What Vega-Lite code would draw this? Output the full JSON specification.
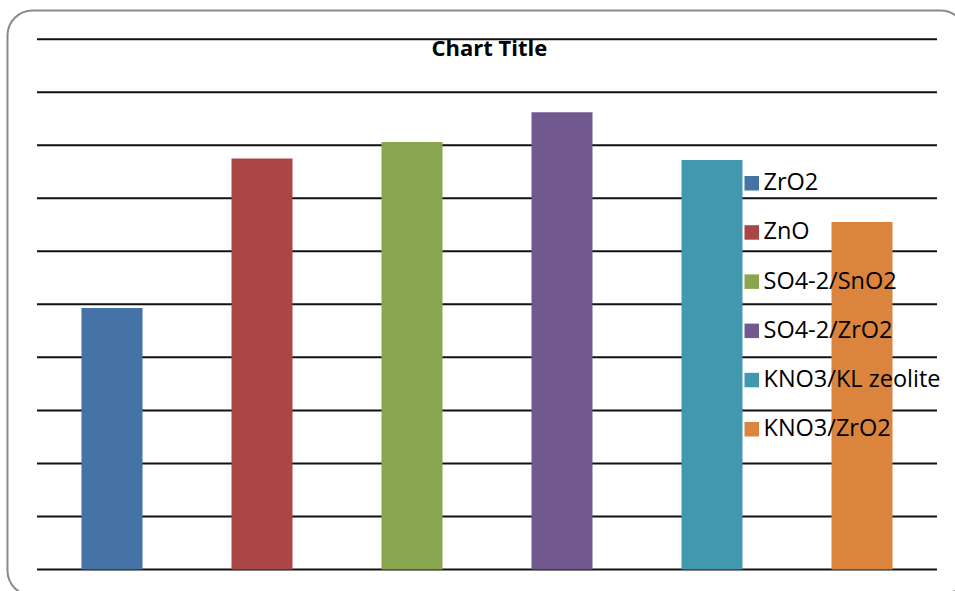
{
  "$schema": "https://vega.github.io/schema/vega-lite/v6.json",
  "width": 958,
  "height": 585,
  "autosize": "none",
  "padding": {"left": 7.5, "top": 10.5, "right": 0, "bottom": 0},
  "background": "white",
  "title": {
    "text": "Chart Title",
    "font": "Open Sans",
    "fontSize": 22,
    "fontWeight": "bold",
    "color": "#000000",
    "anchor": "start",
    "baseline": "alphabetic",
    "offset": 0,
    "dx": 424,
    "dy": 67.5
  },
  "data": {
    "values": [
      {"material": "ZrO2", "value": 49.3},
      {"material": "ZnO", "value": 77.5},
      {"material": "SO4-2/SnO2", "value": 80.6},
      {"material": "SO4-2/ZrO2", "value": 86.2},
      {"material": "KNO3/KL zeolite", "value": 77.2},
      {"material": "KNO3/ZrO2", "value": 65.5}
    ]
  },
  "layer": [
    {
      "data": {
        "values": [
          {"material": "ZrO2", "level": [0, 10, 20, 30, 40, 50, 60, 70, 80, 90, 100]},
          {"material": "ZnO", "level": [0, 10, 20, 30, 40, 50, 60, 70, 80, 90, 100]},
          {"material": "SO4-2/SnO2", "level": [0, 10, 20, 30, 40, 50, 60, 70, 80, 90, 100]},
          {"material": "SO4-2/ZrO2", "level": [0, 10, 20, 30, 40, 50, 60, 70, 80, 90, 100]},
          {"material": "KNO3/KL zeolite", "level": [0, 10, 20, 30, 40, 50, 60, 70, 80, 90, 100]},
          {"material": "KNO3/ZrO2", "level": [0, 10, 20, 30, 40, 50, 60, 70, 80, 90, 100]}
        ]
      },
      "transform": [{"flatten": ["level"]}],
      "mark": {"type": "tick", "orient": "horizontal", "color": "#111111", "thickness": 2, "size": 150, "opacity": 1},
      "encoding": {
        "x": {"field": "material", "type": "nominal", "sort": null, "axis": null},
        "y": {"field": "level", "type": "quantitative", "axis": null}
      }
    },
    {
      "mark": {"type": "bar", "width": {"band": 0.4067}},
      "encoding": {
        "x": {
          "field": "material",
          "type": "nominal",
          "sort": null,
          "scale": {"paddingInner": 0, "paddingOuter": 0.1933, "align": 0.5086},
          "axis": null
        },
        "y": {
          "field": "value",
          "type": "quantitative",
          "scale": {"domain": [-4.9, 105.4], "nice": false, "zero": false},
          "axis": null
        },
        "color": {
          "field": "material",
          "type": "nominal",
          "sort": null,
          "scale": {
            "domain": ["ZrO2", "ZnO", "SO4-2/SnO2", "SO4-2/ZrO2", "KNO3/KL zeolite", "KNO3/ZrO2"],
            "range": ["#4572A7", "#AA4643", "#89A54E", "#71588F", "#4198AF", "#DB843D"]
          },
          "legend": {
            "orient": "none",
            "legendX": 732.5,
            "legendY": 161,
            "title": null,
            "padding": 0,
            "symbolType": "square",
            "symbolSize": 210,
            "symbolStrokeWidth": 0,
            "symbolOpacity": 1,
            "labelFont": "Open Sans",
            "labelFontSize": 23.5,
            "labelColor": "#000000",
            "labelOffset": 0,
            "labelLimit": 400,
            "rowPadding": 24.2
          }
        }
      }
    }
  ],
  "config": {
    "view": {
      "stroke": "#8a8a8a",
      "strokeWidth": 2,
      "cornerRadius": 25,
      "fill": "white"
    }
  }
}
